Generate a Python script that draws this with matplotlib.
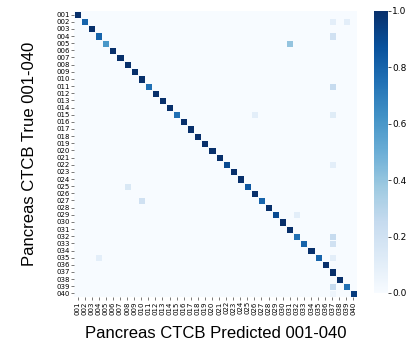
import numpy as np
import matplotlib
matplotlib.use("Agg")
import matplotlib.pyplot as plt

labels = [f"{i:03d}" for i in range(1, 41)]

diag_values = [1.0, 0.8, 1.0, 0.8, 0.6, 1.0, 1.0, 1.0, 1.0, 1.0,
               0.75, 1.0, 1.0, 1.0, 0.75, 1.0, 1.0, 1.0, 1.0, 1.0,
               1.0, 0.9, 1.0, 1.0, 0.85, 1.0, 0.8, 1.0, 0.9, 1.0,
               1.0, 0.75, 0.8, 1.0, 0.8, 1.0, 1.0, 1.0, 0.75, 0.95]

off_rows = [2, 2, 4, 5, 11, 15, 15, 22, 25, 27, 29, 32, 33, 35, 35, 39, 40]
off_cols = [37, 39, 37, 31, 37, 26, 37, 37, 8, 10, 32, 37, 37, 4, 37, 37, 37]
off_vals = [0.1, 0.1, 0.2, 0.4, 0.25, 0.1, 0.12, 0.1, 0.15, 0.2, 0.1, 0.25, 0.2, 0.1, 0.1, 0.25, 0.05]

n = len(labels)
cm = np.zeros((n, n))
cm[np.arange(n), np.arange(n)] = diag_values
for r, c, v in zip(off_rows, off_cols, off_vals):
    cm[r - 1, c - 1] = v

fig = plt.figure(figsize=(4.07, 3.41), dpi=100)
W, H = 407, 341
ax = fig.add_axes([74 / W, 1 - 297 / H, (357 - 74) / W, (297 - 11) / H])
cax = fig.add_axes([374 / W, 1 - 293 / H, 14 / W, (293 - 11) / H])

mesh = ax.pcolormesh(cm, cmap="Blues", vmin=0, vmax=1,
                     edgecolors="#f7fbff", linewidth=0.4)
ax.set_xlim(0, n)
ax.set_ylim(n, 0)
for s in ax.spines.values():
    s.set_visible(False)

ax.set_xticks(np.arange(n) + 0.5)
ax.set_yticks(np.arange(n) + 0.5)
ax.set_xticklabels(labels, rotation=90, fontsize=5, family="DejaVu Sans")
ax.set_yticklabels(labels, rotation=0, fontsize=5, family="DejaVu Sans")
ax.tick_params(length=2, width=0.5, pad=1, color="#444444")

ax.set_xlabel("Pancreas CTCB Predicted 001-040", fontsize=12,
              family="Liberation Sans", labelpad=8)
ax.set_ylabel("Pancreas CTCB True 001-040", fontsize=12,
              family="Liberation Sans", labelpad=14)

cb = fig.colorbar(mesh, cax=cax)
cb.outline.set_visible(False)
cb.set_ticks([0.0, 0.2, 0.4, 0.6, 0.8, 1.0])
cb.ax.tick_params(labelsize=6.5, length=2, width=0.5, pad=1)

fig.savefig("out.png", dpi=100)
